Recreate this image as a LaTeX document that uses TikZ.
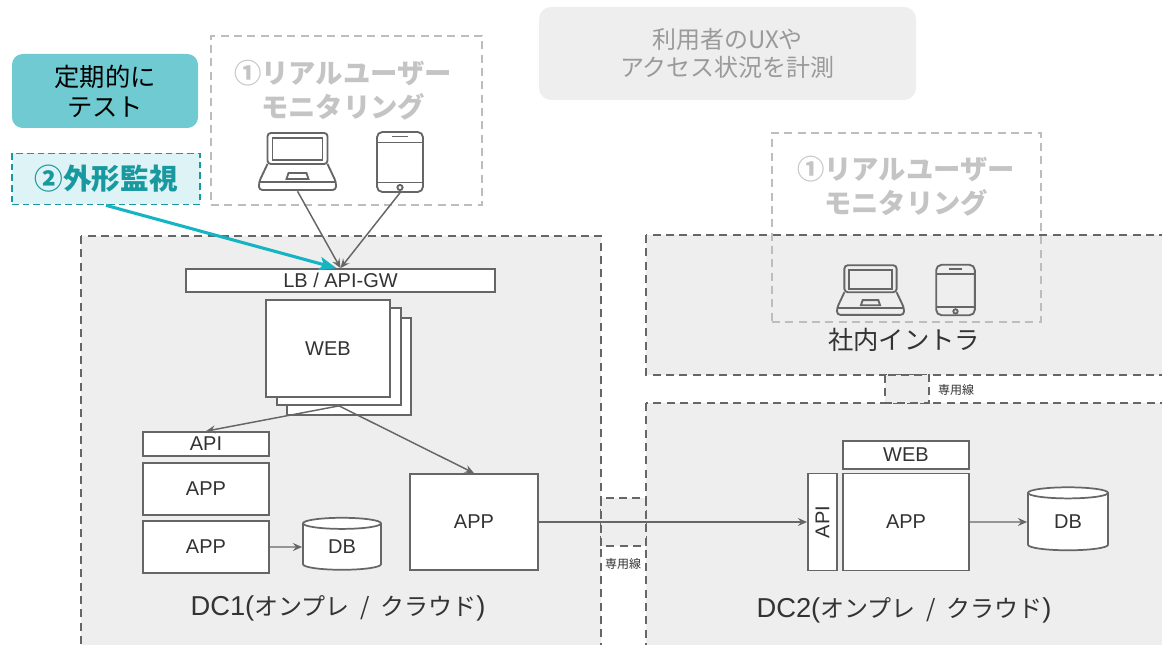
\documentclass[tikz,border=0pt]{standalone}
\usepackage{fontspec}
\setmainfont{Liberation Sans}
\newfontfamily\jp{Noto Sans CJK JP}
\usetikzlibrary{arrows.meta, shapes.geometric}

\definecolor{zonegray}{HTML}{EDEEED}
\definecolor{linegray}{HTML}{666666}
\definecolor{textdark}{HTML}{333333}
\definecolor{rumgray}{HTML}{C4C4C4}
\definecolor{rumline}{HTML}{BDBDBD}
\definecolor{notefill}{HTML}{EEEEEE}
\definecolor{notetext}{HTML}{9A9A9A}
\definecolor{testfill}{HTML}{6FCBD1}
\definecolor{gaikeifill}{HTML}{DDF3F5}
\definecolor{gaikeiteal}{HTML}{18989F}
\definecolor{probeteal}{HTML}{14B4C3}

\newcommand\dclabel[1]{{\rmfamily\fontsize{20.5}{24}\selectfont DC#1(}オンプレ\hspace{8pt}/\hspace{8pt}クラウド{\rmfamily\fontsize{20.5}{24}\selectfont )}}

\tikzset{
  sz/.style 2 args={minimum width=#1*0.75pt, minimum height=#2*0.75pt},
  box/.style={draw=linegray, line width=1.3pt, fill=white, inner sep=0pt, text=textdark, font=\fontsize{15}{18}\selectfont},
  db/.style={box, cylinder, shape border rotate=90, aspect=0.4},
  zone/.style={draw=linegray, fill=zonegray, line width=1.3pt, dash pattern=on 6pt off 4pt},
  rum/.style={draw=rumline, line width=1.3pt, dash pattern=on 6pt off 4pt, inner sep=0pt},
  rumtext/.style={text=rumgray, align=center, font=\jp\bfseries\fontsize{20.5}{25.5}\selectfont},
  note/.style={fill=notefill, rounded corners=9pt, text=notetext, align=center, inner sep=0pt, font=\jp\fontsize{18}{21}\selectfont},
  testbox/.style={fill=testfill, rounded corners=8pt, text=black, align=center, inner sep=0pt, font=\jp\fontsize{19}{22.5}\selectfont},
  gaikei/.style={fill=gaikeifill, draw=gaikeiteal, line width=1.3pt, dash pattern=on 5pt off 3pt, text=gaikeiteal, inner sep=0pt, font=\jp\bfseries\fontsize{21.5}{24}\selectfont},
  zonelabel/.style={text=textdark, font=\jp\fontsize{18}{21}\selectfont},
  linelabel/.style={text=textdark, font=\jp\fontsize{9}{11}\selectfont},
  icon/.style={inner sep=0pt},
  iconline/.style={draw=linegray, line width=1.4pt},
  arr/.style={draw=linegray, line width=1.1pt, -{Stealth[length=7pt, width=6pt, inset=2.5pt]}},
  probe/.style={draw=probeteal, line width=2.3pt, -{Stealth[length=13pt, width=10pt, inset=3pt]}},
  pics/laptop/.style={code={
    \draw[iconline, rounded corners=2.5pt] (-30,-29) rectangle (30,2);
    \draw[iconline] (-25,-24) rectangle (25,-2);
    \draw[iconline, rounded corners=2.5pt] (-30,2) -- (-38.5,20) -- (-38.5,28) -- (38.5,28) -- (38.5,20) -- (30,2);
    \draw[iconline] (-38.5,20) -- (38.5,20);
    \draw[iconline] (-9,11) -- (9,11) -- (11,17) -- (-11,17) -- cycle;
  }},
  pics/phone/.style={code={
    \draw[iconline, rounded corners=4pt] (-23,-30) rectangle (23,30);
    \draw[iconline] (-23,-19.5) -- (23,-19.5) (-23,20.5) -- (23,20.5);
    \draw[iconline] (-8,-25.5) -- (8,-25.5);
    \draw[iconline] (0,25.5) circle (2.6);
  }},
}

\begin{document}
\begin{tikzpicture}[x=0.75pt, y=-0.75pt]
\useasboundingbox (0,0) rectangle (1162,645);
\clip (0,0) rectangle (1162,645);

% zones
\draw[zone] (81,236) rectangle (601,670);
\draw[zone] (646,235) rectangle (1180,375);
\draw[zone] (646,403) rectangle (1180,670);
\draw[zone] (601,498) rectangle (646,546);
\draw[zone] (885,375) rectangle (929,403);

% top notes
\node[note, sz={377}{93}] (uxnote) at (727.5,53.5) {利用者のUXや\\アクセス状況を計測};
\node[testbox, sz={186}{74}] (teiki) at (105,91) {定期的に\\テスト};
\node[gaikei, sz={188}{51}] (gaikei) at (106,179) {②外形監視};

% real user monitoring (left)
\node[rum, sz={271}{169}] (rum1) at (346.5,120.5) {};
\node[rumtext] (rum1t) at (343,90) {①リアルユーザー\\モニタリング};
\node[icon, sz={77}{58}] (pc1) at (297.5,162) {};
\node[icon, sz={46}{61}] (ph1) at (400,162) {};
\pic at (pc1) {laptop};
\pic at (ph1) {phone};

% DC1
\node[box, sz={309}{23}] (lb) at (340.5,280.5) {LB / API-GW};
\node[box, sz={124}{97}] (web3) at (349,366.5) {};
\node[box, sz={124}{97}] (web2) at (339,356.5) {};
\node[box, sz={124}{97}] (web1) at (328,348.5) {WEB};
\node[box, sz={126}{24}] (api1) at (206,444) {API};
\node[box, sz={126}{52}] (app1) at (206,489) {APP};
\node[box, sz={126}{52}] (app2) at (206,547) {APP};
\node[db, sz={78}{52}] (db1) at (342,547) {DB};
\node[box, sz={128}{96}] (app3) at (474,522) {APP};
\node[zonelabel] (dc1t) at (338,608) {\dclabel{1}};
\node[linelabel] (sen1) at (623,564) {専用線};

% intra + real user monitoring (right)
\node[zonelabel, font=\jp\fontsize{19}{22}\selectfont] (intra) at (904,340) {社内イントラ};
\node[rum, sz={269}{189}] (rum2) at (906.5,227.5) {};
\node[rumtext] (rum2t) at (906,186) {①リアルユーザー\\モニタリング};
\node[icon, sz={67}{48}] (pc2) at (870.5,290.5) {};
\node[icon, sz={39}{51}] (ph2) at (955.5,290) {};
\pic[scale=0.87] at (pc2) {laptop};
\pic[scale=0.84] at (ph2) {phone};
\node[linelabel] (sen2) at (956,390) {専用線};

% DC2
\node[box, sz={126}{28}] (dc2web) at (906,455) {WEB};
\node[box, sz={29}{97}] (dc2api) at (822.5,522) {\rotatebox{90}{API}};
\node[box, sz={126}{97}] (dc2app) at (906,522) {APP};
\node[db, sz={80}{63}] (db2) at (1068,522) {DB};
\node[zonelabel] (dc2t) at (904,610) {\dclabel{2}};

\foreach \from/\to in {pc1.south/lb.north, ph1.south/lb.north, web2.south/api1.north, web2.south/app3.north, app2.east/db1.west, app3.east/dc2api.west, dc2app.east/db2.west}
  \draw[arr] (\from) -- (\to);
\draw[probe] (gaikei.south) -- ([xshift=-3pt]lb.north);
\end{tikzpicture}
\end{document}
